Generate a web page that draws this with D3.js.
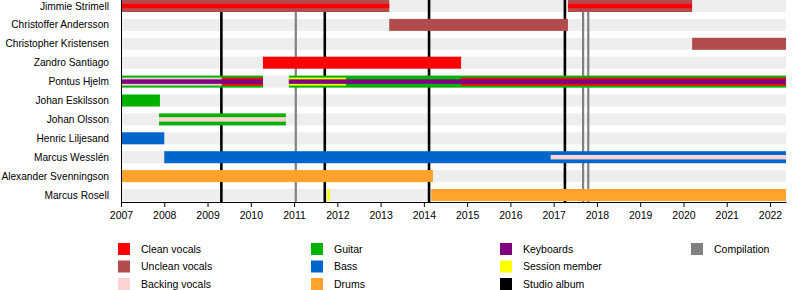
<!DOCTYPE html>
<html>
<head>
<meta charset="utf-8">
<script src="https://cdn.jsdelivr.net/npm/d3@7"></script>
<style>
  body { margin: 0; background: #fff; }
  svg { font-family: "Liberation Sans", Arial, sans-serif; }
</style>
</head>
<body>
<div class="Timeline"></div>
<script>
// band members, top to bottom
const members = [
  "Jimmie Strimell", "Christoffer Andersson", "Christopher Kristensen",
  "Zandro Santiago", "Pontus Hjelm", "Johan Eskilsson", "Johan Olsson",
  "Henric Liljesand", "Marcus Wesslén", "Alexander Svenningson", "Marcus Rosell"
];

const yearTicks = d3.range(2007, 2023);
const startYear = 2007;
const endYear = 2022.37;

// member, role, from, to, layer (0 = outer, 1 = middle, 2 = inner)
const spans = [
  ["Jimmie Strimell", "Unclean vocals", 2007, 2013.2, 0],
  ["Jimmie Strimell", "Clean vocals", 2007, 2013.2, 2],
  ["Jimmie Strimell", "Unclean vocals", 2017.33, 2020.2, 0],
  ["Jimmie Strimell", "Clean vocals", 2017.33, 2020.2, 2],
  ["Christoffer Andersson", "Unclean vocals", 2013.2, 2017.33, 0],
  ["Christopher Kristensen", "Unclean vocals", 2020.2, endYear, 0],
  ["Zandro Santiago", "Clean vocals", 2010.28, 2014.86, 0],
  ["Pontus Hjelm", "Guitar", 2007, 2010.28, 0],
  ["Pontus Hjelm", "Backing vocals", 2007, 2009.33, 1],
  ["Pontus Hjelm", "Clean vocals", 2009.33, 2010.28, 1],
  ["Pontus Hjelm", "Keyboards", 2007, 2010.28, 2],
  ["Pontus Hjelm", "Guitar", 2010.88, endYear, 0],
  ["Pontus Hjelm", "Session member", 2010.88, 2012.2, 1],
  ["Pontus Hjelm", "Clean vocals", 2014.86, endYear, 1],
  ["Pontus Hjelm", "Keyboards", 2010.88, endYear, 2],
  ["Johan Eskilsson", "Guitar", 2007, 2007.9, 0],
  ["Johan Olsson", "Guitar", 2007.88, 2010.81, 0],
  ["Johan Olsson", "Backing vocals", 2007.88, 2010.81, 2],
  ["Henric Liljesand", "Bass", 2007, 2008.0, 0],
  ["Marcus Wesslén", "Bass", 2008.0, endYear, 0],
  ["Marcus Wesslén", "Backing vocals", 2016.93, endYear, 2],
  ["Alexander Svenningson", "Drums", 2007, 2014.21, 0],
  ["Marcus Rosell", "Session member", 2011.77, 2011.83, 0],
  ["Marcus Rosell", "Drums", 2014.17, endYear, 0]
];

// release lines
const albums = [2009.32, 2011.71, 2014.12, 2017.26];
const compilations = [2011.04, 2017.68, 2017.8];

const legendNames = [
  "Clean vocals", "Unclean vocals", "Backing vocals",
  "Guitar", "Bass", "Drums",
  "Keyboards", "Session member", "Studio album",
  "Compilation"
];
const legendColors = [
  "#ff0000", "#b24c4c", "#ffd3d3",
  "#00b300", "#0066cc", "#ffa32a",
  "#800080", "#ffff00", "#000000",
  "#808080"
];

const color = d3.scaleOrdinal().domain(legendNames).range(legendColors);

const width = 800, height = 290;
const svg = d3.select(".Timeline").append("svg")
  .attr("width", width)
  .attr("height", height);

const x = d3.scaleLinear().domain([startYear, endYear]).range([121, 786]);
const y = d3.scalePoint().domain(members).range([6, 195]);
const barH = [12, 8, 4.5];
const axisY = 202;

// grey background bars
svg.append("g").selectAll("rect")
  .data(members)
  .join("rect")
  .attr("x", x(startYear) + 1)
  .attr("y", d => y(d) - barH[0] / 2)
  .attr("width", x(endYear) - x(startYear) - 1)
  .attr("height", barH[0])
  .attr("fill", "#eeeeee");

// release lines
svg.append("g").selectAll("line")
  .data(albums.map(d => ["Studio album", d]).concat(compilations.map(d => ["Compilation", d])))
  .join("line")
  .attr("x1", d => x(d[1])).attr("x2", d => x(d[1]))
  .attr("y1", 0).attr("y2", axisY)
  .attr("stroke", d => color(d[0]))
  .attr("stroke-width", d => d[0] === "Studio album" ? 2.6 : 2.2);

// member bars
svg.append("g").selectAll("rect")
  .data(spans)
  .join("rect")
  .attr("x", d => x(d[2]))
  .attr("y", d => y(d[0]) - barH[d[4]] / 2)
  .attr("width", d => Math.max(1, x(d[3]) - x(d[2])))
  .attr("height", d => barH[d[4]])
  .attr("fill", d => color(d[1]));

// member names
svg.append("g").selectAll("text")
  .data(members)
  .join("text")
  .attr("x", 109)
  .attr("y", d => y(d))
  .attr("dy", "0.35em")
  .attr("text-anchor", "end")
  .style("font-size", "10.2px")
  .text(d => d);

// left edge
svg.append("line")
  .attr("x1", x(startYear) + 0.5).attr("x2", x(startYear) + 0.5)
  .attr("y1", 0).attr("y2", axisY)
  .attr("stroke", "#000");

// x axis
const axis = svg.append("g")
  .attr("transform", "translate(0," + axisY + ")")
  .call(d3.axisBottom(x).tickValues(yearTicks).tickFormat(d3.format("d")).tickSize(5).tickSizeOuter(0));
axis.select(".domain").attr("stroke", "#000");
axis.selectAll("text").style("font-size", "10.5px").attr("fill", "#000").attr("dy", "0.9em");

// legend
const legend = svg.append("g").selectAll("g")
  .data(legendNames)
  .join("g")
  .attr("transform", (d, i) => {
    const col = Math.floor(i / 3), row = i % 3;
    return "translate(" + [118, 311, 500, 691][col] + "," + (243 + row * 17.5) + ")";
  });
legend.append("rect")
  .attr("width", 12).attr("height", 12)
  .attr("fill", d => color(d));
legend.append("text")
  .attr("x", 23).attr("y", 6)
  .attr("dy", "0.35em")
  .style("font-size", "10.5px")
  .text(d => d);
</script>
</body>
</html>
